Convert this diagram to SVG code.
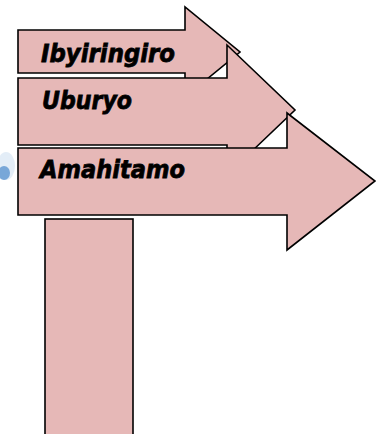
<svg xmlns="http://www.w3.org/2000/svg" width="382" height="434" viewBox="0 0 382 434">
<style>
.shape{fill:#E6B8B7;stroke:#000;stroke-width:1.6;stroke-linejoin:miter}
.lbl{font-family:"DejaVu Sans","Liberation Sans",sans-serif;font-weight:bold;font-style:italic;font-size:25px;fill:#000;stroke:#000;stroke-width:0.8}
</style>
<rect width="382" height="434" fill="#fff"/>
<ellipse cx="6" cy="166" rx="9" ry="14" fill="#dce9f5" opacity="0.8"/>
<ellipse cx="4" cy="173" rx="6" ry="7" fill="#5d95cf" opacity="0.8"/>
<g id="stem"><rect class="shape" x="45" y="219" width="88" height="220"/></g>
<g id="arrow1">
<polygon class="shape" points="18,30 185,30 185,7 240,52 185,97 185,73 18,73"/>
<text class="lbl" x="41" y="62" textLength="134" lengthAdjust="spacingAndGlyphs">Ibyiringiro</text>
</g>
<g id="arrow2">
<polygon class="shape" points="18,78 227,78 227,45 295,110 227,175 227,145 18,145"/>
<text class="lbl" x="42" y="109" textLength="90" lengthAdjust="spacingAndGlyphs">Uburyo</text>
</g>
<g id="arrow3">
<polygon class="shape" points="18,148 287,148 287,113 375,181 287,250 287,215 18,215"/>
<text class="lbl" x="40" y="178" textLength="145" lengthAdjust="spacingAndGlyphs">Amahitamo</text>
</g>
<g id="connectors"></g>
</svg>
